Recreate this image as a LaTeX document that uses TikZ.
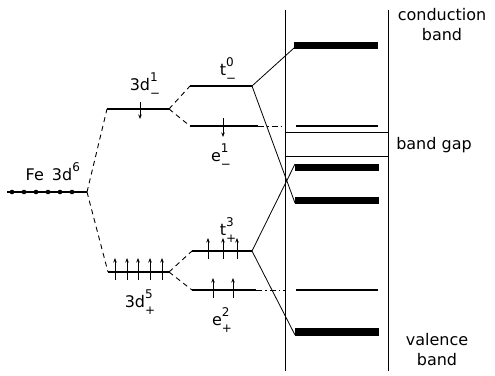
\documentclass[tikz,border=0pt]{standalone}
\usepackage{fontspec}
\setmainfont{DejaVu Sans}
\usetikzlibrary{arrows.meta,positioning}

% level name with stacked super- and subscript
\newcommand{\orb}[3]{#1\rlap{\raisebox{1.0ex}{\fontsize{12}{12}\selectfont#2}}\raisebox{-0.8ex}{\fontsize{12}{12}\selectfont#3}}

\begin{document}
\begin{tikzpicture}[x=1pt, y=-1pt,
    font=\fontsize{16}{20}\selectfont,
    level/.style={line width=1.6pt},
    split/.style={line width=0.9pt, dash pattern=on 5pt off 4pt},
    tail/.style={line width=0.9pt, dash pattern=on 6pt off 3pt on 1.5pt off 3pt},
    link/.style={line width=0.8pt},
    band/.style={line width=7pt},
    thinband/.style={line width=1.4pt},
    edge/.style={line width=1pt},
    spinup/.style={line width=0.9pt, -{Stealth[length=4.5pt, width=3.5pt]}},
    lbl/.style={inner sep=0pt, align=center}
  ]
    \useasboundingbox (0,0) rectangle (495,375);

    % free atom level
    \coordinate (fe-l) at (7,192);
    \coordinate (fe-r) at (87,192);
    \draw[level] (fe-l) -- (fe-r);
    \foreach \x in {12,24,36,48,60,72}
      \fill (\x,192) circle (2.3pt);
    \node[lbl] (fe) at (49,175) {Fe\enspace\orb{3d}{6}{}};

    % exchange split 3d levels
    \coordinate (dm-l) at (107,109);
    \coordinate (dm-r) at (169,109);
    \coordinate (dp-l) at (108,272);
    \coordinate (dp-r) at (169,272);
    \draw[level] (dm-l) -- (dm-r);
    \draw[level] (dp-l) -- (dp-r);
    \draw[split] (fe-r) -- (dm-l);
    \draw[split] (fe-r) -- (dp-l);
    \draw[spinup] (140,102) -- (140,119);
    \foreach \x in {115,127,138,150,162}
      \draw[spinup] (\x,280) -- (\x,258);
    \node[lbl] (dm) at (145,85) {\orb{3d}{1}{−}};
    \node[lbl] (dp) at (140,302) {\orb{3d}{5}{+}};

    % crystal field levels
    \coordinate (tm-l) at (190,86);
    \coordinate (tm-r) at (252,86);
    \coordinate (em-l) at (190,126);
    \coordinate (em-r) at (258,126);
    \coordinate (em-end) at (285,126);
    \coordinate (tp-l) at (192,251);
    \coordinate (tp-r) at (252,251);
    \coordinate (ep-l) at (192,290);
    \coordinate (ep-r) at (256,290);
    \coordinate (ep-end) at (285,290);
    \draw[level] (tm-l) -- (tm-r);
    \draw[level] (em-l) -- (em-r);
    \draw[level] (tp-l) -- (tp-r);
    \draw[level] (ep-l) -- (ep-r);
    \draw[tail] (em-r) -- (em-end);
    \draw[tail] (ep-r) -- (ep-end);
    \draw[split] (dm-r) -- (tm-l);
    \draw[split] (dm-r) -- (em-l);
    \draw[split] (dp-r) -- (tp-l);
    \draw[split] (dp-r) -- (ep-l);
    \draw[spinup] (223,118) -- (223,137);
    \foreach \x in {208,223,237}
      \draw[spinup] (\x,259) -- (\x,238);
    \foreach \x in {213,233}
      \draw[spinup] (\x,298) -- (\x,278);
    \node[lbl] (tm) at (228,70) {\orb{t}{0}{−}};
    \node[lbl] (em) at (221,156) {\orb{e}{1}{−}};
    \node[lbl] (tp) at (228,230) {\orb{t}{3}{+}};
    \node[lbl] (ep) at (222,320) {\orb{e}{2}{+}};

    % crystal bands
    \draw[edge] (285,10) -- (285,371);
    \draw[edge] (388,10) -- (388,371);
    \draw[edge] (285,132) -- (388,132);
    \draw[edge] (285,156) -- (388,156);
    \coordinate (cb) at (294,45);
    \coordinate (vb1) at (295,167);
    \coordinate (vb2) at (295,200);
    \coordinate (vb3) at (295,332);
    \draw[band] (cb) -- (378,45);
    \draw[band] (vb1) -- (379,167);
    \draw[band] (vb2) -- (379,200);
    \draw[band, line width=8pt] (vb3) -- (379,332);
    \draw[thinband] (296,126) -- (378,126);
    \draw[thinband] (296,290) -- (378,290);

    % hybridisation with the bands
    \draw[link] (tm-r) -- ([yshift=-3pt]cb);
    \draw[link] (tm-r) -- ([yshift=-3pt]vb2);
    \draw[link] (tp-r) -- ([yshift=3pt]vb1);
    \draw[link] (tp-r) -- ([yshift=-3pt]vb3);

    \node[lbl] (cond) at (442,25) {conduction\\band};
    \node[lbl] (gap) at (434,145) {band gap};
    \node[lbl] (val) at (437,350) {valence\\band};
  \end{tikzpicture}
\end{document}
